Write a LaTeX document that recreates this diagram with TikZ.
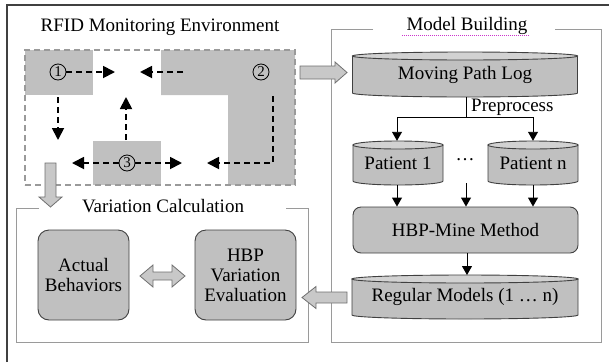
\documentclass[tikz,border=0pt]{standalone}
\usepackage{fontspec}
\setmainfont{Liberation Serif}
\usetikzlibrary{arrows.meta,calc}
\definecolor{roomgray}{HTML}{C0C0C0}
\definecolor{boxgray}{HTML}{C0C0C0}
\definecolor{topgray}{HTML}{D2D2D2}
\definecolor{edgegray}{HTML}{404040}
\definecolor{framegray}{HTML}{9A9A9A}
\definecolor{arrowfill}{HTML}{C8C8C8}
\definecolor{arrowedge}{HTML}{707070}
\definecolor{spellpink}{HTML}{CC33CC}
\newcommand\cylnode[6]{%
  \pgfmathsetmacro\cxl{#2-#4/2}\pgfmathsetmacro\cxr{#2+#4/2}%
  \pgfmathsetmacro\cyt{#3-#5/2+4}\pgfmathsetmacro\cyb{#3+#5/2-4}%
  \filldraw[cylbody] (\cxl,\cyt) -- (\cxl,\cyb) arc[start angle=180,end angle=360,x radius={#4pt/2},y radius=4pt] -- (\cxr,\cyt) -- cycle;
  \filldraw[cyltop] (#2,\cyt) ellipse[x radius={#4pt/2},y radius=4pt];
  \node[cyltext,minimum width=#4pt,minimum height=#5pt] (#1) at (#2,#3) {#6};
}
\begin{document}
\begin{tikzpicture}[x=1pt,y=-1pt,
  font=\fontsize{19}{21}\selectfont,
  cylbody/.style={fill=boxgray,draw=edgegray,line width=0.9pt},
  cyltop/.style={fill=topgray,draw=edgegray,line width=0.9pt},
  cyltext/.style={inner sep=0pt,text=black},
  rbox/.style={fill=boxgray,draw=edgegray,line width=0.9pt,rounded corners=#1,inner sep=0pt,align=center},
  room/.style={fill=roomgray,draw=none},
  frame/.style={draw=framegray,line width=0.9pt},
  circnum/.style={circle,draw=black,line width=0.8pt,inner sep=0pt,minimum size=16pt,font=\fontsize{15}{15}\selectfont},
  dasharrow/.style={draw=black,line width=1.8pt,dash pattern=on 6pt off 4pt,-{Triangle[length=12pt,width=12pt]}},
  solidarrow/.style={draw=black,line width=0.9pt,-{Triangle[length=9pt,width=10pt]}},
  blockarrow/.style={fill=arrowfill,draw=arrowedge,line width=0.8pt},
  title/.style={fill=white,inner ysep=2pt}
]
\useasboundingbox (0,0) rectangle (609,362);
\fill[white] (0,0) rectangle (609,362);
% outer border (top and left)
\draw[edgegray,line width=1.4pt] (7,362) -- (7,5) -- (609,5);

% ---------- RFID environment ----------
\node (rfidtitle) at (160,27) {RFID Monitoring Environment};
\fill[room] (25,50) rectangle (93,95);
\fill[room] (161,50) -- (295,50) -- (295,185) -- (228,185) -- (228,95) -- (161,95) -- cycle;
\fill[room] (93,141) rectangle (161,185);
\node[draw=framegray,line width=1.2pt,dash pattern=on 6pt off 4pt,minimum width=270pt,minimum height=135pt,inner sep=0pt] (rfid) at (160,117.5) {};

\node[circnum] (c1) at (58,72) {1};
\node[circnum] (c2) at (261,72) {2};
\node[circnum] (c3) at (127,163) {3};
\coordinate (t1) at (115,72);
\coordinate (s2) at (183,72);
\coordinate (t2) at (140,72);
\coordinate (s1d) at (58,97);
\coordinate (t1d) at (58,140);
\coordinate (s3u) at (126,140);
\coordinate (t3u) at (126,97);
\coordinate (t3l) at (72,163);
\coordinate (t3r) at (182,163);
\coordinate (s2d) at (273,96);
\coordinate (k2) at (273,163);
\coordinate (t2l) at (207,163);
\draw[dasharrow] (c1) -- (t1);
\draw[dasharrow] (s2) -- (t2);
\draw[dasharrow] (s1d) -- (t1d);
\draw[dasharrow] (s3u) -- (t3u);
\draw[dasharrow] (c3) -- (t3l);
\draw[dasharrow] (c3) -- (t3r);
\draw[dasharrow] (s2d) -- (k2) -- (t2l);

% ---------- Model Building ----------
\draw[frame] (373,29) -- (331,29) -- (331,342) -- (601,342) -- (601,29) -- (555,29);
\node (mbtitle) at (467,26) {Model Building};
\draw[spellpink,line width=0.8pt,dash pattern=on 1pt off 1pt] (402,35) -- (530,35);

\cylnode{mpl}{465}{74.5}{225}{45}{Moving Path Log}
\cylnode{p1}{398}{163}{90}{44}{Patient 1}
\cylnode{pn}{533}{163}{90}{44}{Patient n}
\node (dots) at (465,160) {\dots};
\node[rbox=8pt,minimum width=225pt,minimum height=46pt] (hbp) at (465.5,230) {HBP-Mine Method};
\cylnode{rm}{465}{297}{226}{44}{Regular Models (1 \dots\ n)}

\coordinate (split) at (466,117);
\coordinate (sl) at (397,117);
\coordinate (sr) at (533,117);
\draw[line width=0.9pt] (mpl.south -| split) -- (split);
\draw[line width=0.9pt] (sl) -- (sr);
\draw[solidarrow] (sl) -- (sl |- p1.north);
\draw[solidarrow] (sr) -- (sr |- pn.north);
\node[anchor=west,inner sep=0pt] (prep) at (471,107) {Preprocess};

\draw[solidarrow] (p1.south -| sl) -- (sl |- hbp.north);
\coordinate (mid) at (466,183);
\draw[solidarrow] (mid) -- (mid |- hbp.north);
\draw[solidarrow] (pn.south -| sr) -- (sr |- hbp.north);
\draw[solidarrow] (hbp.south -| 467,0) -- (467,275);

% ---------- Variation Calculation ----------
\draw[frame] (39,208) -- (16,208) -- (16,342) -- (308,342) -- (308,208) -- (286,208);
\node (vctitle) at (163,206) {Variation Calculation};
\node[rbox=11pt,minimum width=91pt,minimum height=90pt] (ab) at (83.5,275) {Actual\\[-1pt]Behaviors};
\node[rbox=11pt,minimum width=101pt,minimum height=90pt] (hve) at (245.5,275) {HBP\\[-1pt]Variation\\[-1pt]Evaluation};

% ---------- block arrows ----------
\filldraw[blockarrow] (300,66) -- (335,66) -- (335,62) -- (347,72.5) -- (335,83) -- (335,79) -- (300,79) -- cycle;
\filldraw[blockarrow] (45,163) -- (45,197) -- (39,197) -- (50.5,207) -- (62,197) -- (56,197) -- (56,163) -- cycle;
\filldraw[blockarrow] (347,292) -- (316,292) -- (316,286.5) -- (302,297.5) -- (316,308.5) -- (316,303) -- (347,303) -- cycle;
\filldraw[blockarrow] (140,276) -- (153,265) -- (153,272) -- (172,272) -- (172,265) -- (185,276) -- (172,287) -- (172,280) -- (153,280) -- (153,287) -- cycle;
\end{tikzpicture}
\end{document}
